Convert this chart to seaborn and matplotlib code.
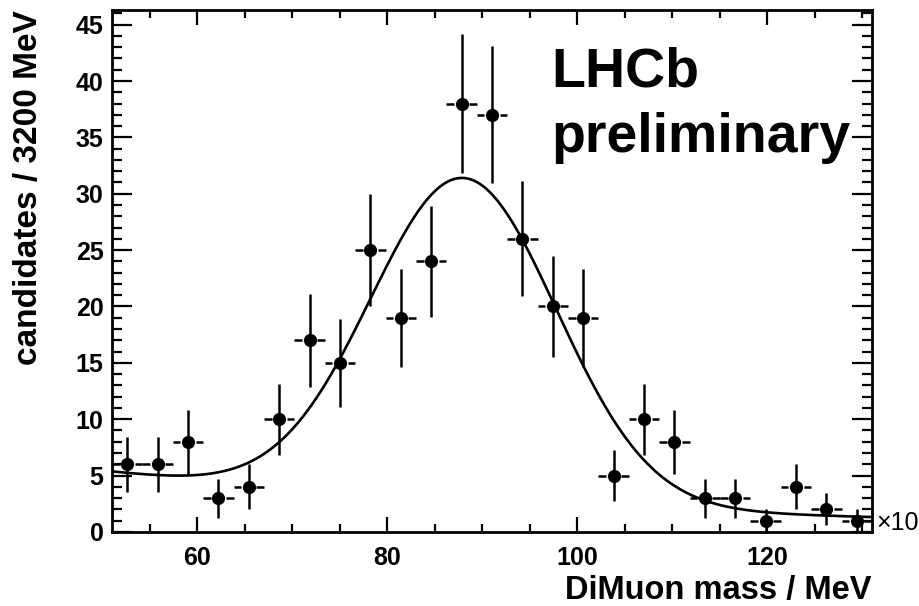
import numpy as np
import pandas as pd
import matplotlib
matplotlib.use("Agg")
import matplotlib.pyplot as plt
from matplotlib.ticker import MultipleLocator
import seaborn as sns

# Binned dimuon candidates (bin width 3.2, in units of 10^3 MeV)
bin_centres = [52.6, 55.8, 59.0, 62.2, 65.4, 68.6, 71.8, 75.0, 78.2, 81.4,
               84.6, 87.8, 91.0, 94.2, 97.4, 100.6, 103.8, 107.0, 110.2,
               113.4, 116.6, 119.8, 123.0, 126.2, 129.4]
counts = [6, 6, 8, 3, 4, 10, 17, 15, 25, 19, 24, 38, 37, 26, 20, 19, 5, 10,
          8, 3, 3, 1, 4, 2, 1]
bin_width = 3.2

# Fit result: Gaussian peak on an exponential background
sig_amp, sig_mean, sig_width = 28.6, 88.0, 9.8
bkg_amp, bkg_slope = 2.8, 0.0175

x_ticks = [60, 80, 100, 120]
y_ticks = [0, 5, 10, 15, 20, 25, 30, 35, 40, 45]


def fit_model(x):
    return (sig_amp * np.exp(-0.5 * ((x - sig_mean) / sig_width) ** 2)
            + bkg_amp * np.exp(-bkg_slope * (x - sig_mean)))


df = pd.DataFrame({"mass": bin_centres, "n": counts})
df["err"] = np.sqrt(df["n"])

xs = np.linspace(51, 131, 500)
fit_df = pd.DataFrame({"mass": xs, "fit": fit_model(xs)})

sns.set_theme(style="ticks")
plt.rcParams["font.family"] = ["Liberation Sans", "DejaVu Sans"]
plt.rcParams["font.weight"] = "bold"
plt.rcParams["text.color"] = "black"
plt.rcParams["axes.labelcolor"] = "black"
plt.rcParams["xtick.color"] = "black"
plt.rcParams["ytick.color"] = "black"

fig = plt.figure(figsize=(9.2, 6.06), dpi=100)
ax = fig.add_axes([0.1217, 0.1222, 0.8261, 0.8613])

# Poisson error bars: full vertical bar, horizontal bin width with a gap at the marker
gap = 0.8
ax.vlines(df["mass"], df["n"] - df["err"], df["n"] + df["err"],
          color="black", lw=1.8, zorder=2)
ax.hlines(df["n"], df["mass"] - bin_width / 2, df["mass"] - gap,
          color="black", lw=1.8, zorder=2)
ax.hlines(df["n"], df["mass"] + gap, df["mass"] + bin_width / 2,
          color="black", lw=1.8, zorder=2)

sns.lineplot(data=fit_df, x="mass", y="fit", ax=ax, color="black", lw=1.9,
             zorder=3)
sns.scatterplot(data=df, x="mass", y="n", ax=ax, color="black", s=90,
                edgecolor="black", linewidth=0, zorder=4)

ax.set_xlim(51, 131)
ax.set_ylim(0, 46.3)

ax.set_xticks(x_ticks)
ax.set_yticks(y_ticks)
ax.xaxis.set_minor_locator(MultipleLocator(5))
ax.yaxis.set_minor_locator(MultipleLocator(1))

ax.tick_params(axis="x", which="major", direction="in", length=11, width=1.6,
               top=True, bottom=True, pad=10, labelsize=18, colors="black")
ax.tick_params(axis="x", which="minor", direction="in", length=5.5, width=1.6,
               top=True, bottom=True, colors="black")
ax.tick_params(axis="y", which="major", direction="in", length=14.5, width=1.6,
               left=True, right=True, pad=6, labelsize=18, colors="black")
ax.tick_params(axis="y", which="minor", direction="in", length=7, width=1.6,
               left=True, right=True, colors="black")
for lab in ax.get_xticklabels() + ax.get_yticklabels():
    lab.set_fontweight("bold")

for sp in ax.spines.values():
    sp.set_linewidth(2.0)
    sp.set_color("black")

ax.set_xlabel("DiMuon mass / MeV", fontsize=23.5, fontweight="bold",
              loc="right", color="black")
ax.set_ylabel("candidates / 3200 MeV", fontsize=24, fontweight="bold",
              loc="top", color="black")
ax.xaxis.set_label_coords(1.0, -0.083)
ax.yaxis.set_label_coords(-0.09, 1.0)

ax.text(97.2, 43.1, "LHCb\npreliminary", fontsize=40, fontweight="bold",
        ha="left", va="top", linespacing=1.35, zorder=5, color="black")

fig.text(0.952, 0.137, "×10", fontsize=18, ha="left", va="center",
         fontweight="normal", color="black")

fig.savefig("out.png", dpi=100)
